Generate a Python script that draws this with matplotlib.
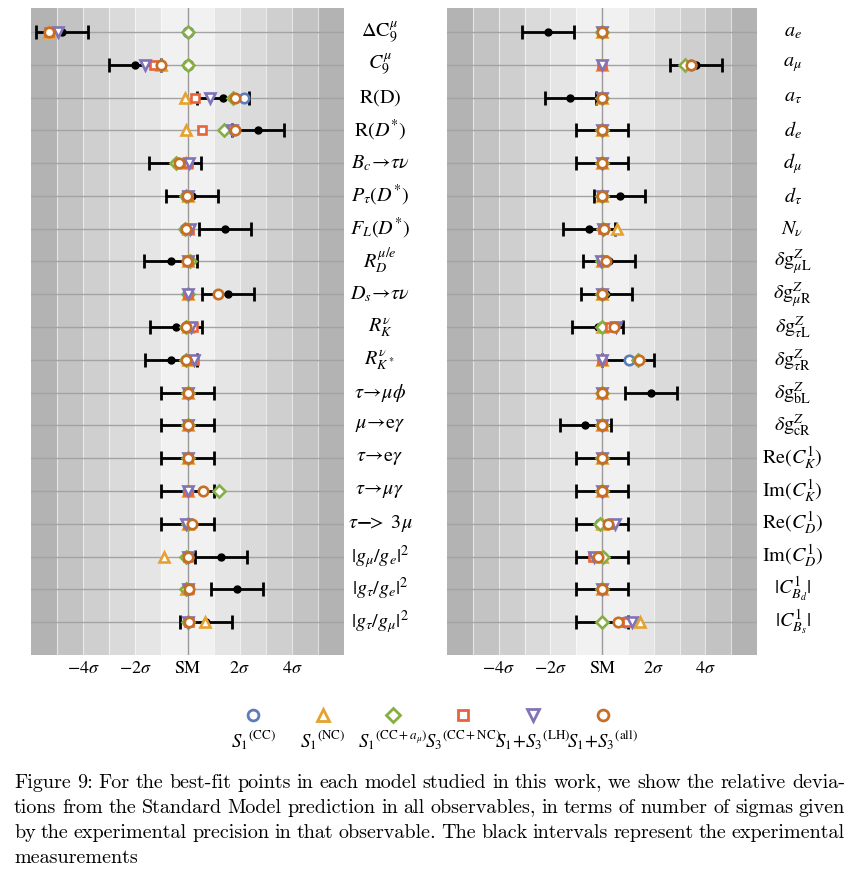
import matplotlib
matplotlib.use('Agg')
import matplotlib.pyplot as plt
import numpy as np

plt.rcParams['font.family'] = 'STIXGeneral'
plt.rcParams['mathtext.fontset'] = 'stix'

# --- data (deviations in units of sigma) ---
left_labels = [r'$\Delta\mathrm{C}_9^{\mu}$', r'$C_9^{\mu}$', r'$\mathrm{R(D)}$', r'$\mathrm{R}(D^{*})$',
               r'$B_c\!\rightarrow\!\tau\nu$', r'$P_\tau(D^{*})$', r'$F_L(D^{*})$', r'$R_D^{\mu/e}$',
               r'$D_s\!\rightarrow\!\tau\nu$', r'$R_K^{\nu}$', r'$R_{K^*}^{\nu}$', r'$\tau\!\rightarrow\!\mu\phi$',
               r'$\mu\!\rightarrow\!\mathrm{e}\gamma$', r'$\tau\!\rightarrow\!\mathrm{e}\gamma$',
               r'$\tau\!\rightarrow\!\mu\gamma$', r'$\tau\mathbf{-}\!\!>\ 3\mu$',
               r'$|g_\mu/g_e|^2$', r'$|g_\tau/g_e|^2$', r'$|g_\tau/g_\mu|^2$']
right_labels = [r'$a_e$', r'$a_\mu$', r'$a_\tau$', r'$d_e$', r'$d_\mu$', r'$d_\tau$', r'$N_\nu$',
                r'$\delta\mathrm{g}_{\mu\mathrm{L}}^{Z}$', r'$\delta\mathrm{g}_{\mu\mathrm{R}}^{Z}$',
                r'$\delta\mathrm{g}_{\tau\mathrm{L}}^{Z}$', r'$\delta\mathrm{g}_{\tau\mathrm{R}}^{Z}$',
                r'$\delta\mathrm{g}_{\mathrm{bL}}^{Z}$', r'$\delta\mathrm{g}_{\mathrm{cR}}^{Z}$',
                r'$\mathrm{Re}(C_K^1)$', r'$\mathrm{Im}(C_K^1)$', r'$\mathrm{Re}(C_D^1)$', r'$\mathrm{Im}(C_D^1)$',
                r'$|C_{B_d}^1|$', r'$|C_{B_s}^1|$']

# experimental central values (errors are 1 sigma by construction)
left_exp = [-4.82, -2.02, 1.36, 2.71, -0.47, 0.18, 1.45, -0.65, 1.56, -0.44, -0.64,
            0, 0, 0, 0, 0, 1.28, 1.91, 0.72]
right_exp = [-2.08, 3.65, -1.22, 0, 0, 0.68, -0.5, 0.26, 0.17, -0.17, 1.01, 1.9, -0.64,
             0, 0, 0, 0, 0, 0]

left_s1_cc   = [0, 0, 2.18, 1.8, -0.4, -0.05, -0.1, 0, 0, -0.05, -0.05, 0, 0, 0, 0, 0, 0, 0, 0]
left_s1_nc   = [-5.3, -1.03, -0.08, -0.06, -0.05, 0, 0, 0, 0, 0, 0, 0, 0, 0, 0, 0, -0.9, -0.05, 0.69]
left_s1_ccam = [0, 0, 1.76, 1.4, -0.46, -0.05, -0.1, 0.08, 0, -0.05, -0.05, 0, 0, 0, 1.2, 0, -0.05, -0.05, 0]
left_s3      = [-5.3, -1.29, 0.28, 0.55, 0, 0, 0.05, 0, 0, 0.2, 0.26, 0, 0, 0, 0, 0, 0, 0.05, 0.05]
left_lh      = [-4.97, -1.62, 0.86, 1.69, 0.04, 0, 0.09, 0, 0, 0.15, 0.26, 0, 0, 0, 0, -0.05, 0, 0, 0]
left_all     = [-5.3, -1.03, 1.82, 1.82, -0.33, -0.02, -0.05, -0.03, 1.18, -0.06, -0.06,
                0, 0, 0, 0.58, 0.18, 0, 0.07, 0.06]

right_s1_cc   = [0, 3.45, 0, 0, 0, 0, 0.05, 0, 0, 0, 1.04, 0, 0, 0, 0, -0.06, 0, 0, 0.9]
right_s1_nc   = [0, 0, 0, 0, 0, 0, 0.58, 0, 0, 0, 0, 0, 0, 0, 0, 0, 0, 0, 1.47]
right_s1_ccam = [0, 3.2, 0, 0, 0, 0, 0.05, 0, 0, 0, 1.41, 0, 0, 0, 0, -0.06, 0.05, 0, 0]
right_s3      = [0, 0, 0, 0, 0, 0, 0.05, 0, 0, 0.32, 0, 0, 0, 0, 0, 0.3, -0.36, 0, 0.96]
right_lh      = [0, 0, 0, 0, 0, 0, 0.05, -0.05, 0, 0.54, 0, 0, 0, 0, 0, 0.51, -0.32, 0, 1.15]
right_all     = [0, 3.44, 0, 0, 0, 0, 0.09, 0.15, 0, 0.45, 1.44, 0, 0, 0, 0, 0.23, -0.17, 0, 0.6]

model_names = [r'${S_1}^{(\mathrm{CC})}$', r'${S_1}^{(\mathrm{NC})}$', r'${S_1}^{(\mathrm{CC}+a_\mu)}$',
               r'${S_3}^{(\mathrm{CC+NC})}$', r'${S_1\!+\!S_3}^{(\mathrm{LH})}$', r'${S_1\!+\!S_3}^{(\mathrm{all})}$']
markers = ['o', '^', 'D', 's', 'v', 'o']
msizes = [6.8, 7.8, 6.3, 6.3, 7.8, 6.8]
colors = ['#5b7dbb', '#e6a22e', '#86ae40', '#ea6238', '#8272b6', '#c66e24']

band_grays = ['#f1f1f1', '#e5e5e5', '#dadada', '#cfcfcf', '#c3c3c3', '#b3b3b3']

W, H = 859, 882
fig = plt.figure(figsize=(W / 100, H / 100), dpi=100)


def panel(rect, labels, exp, series):
    ax = fig.add_axes(rect)
    n = len(labels)
    y = -np.arange(n)
    for k, c in enumerate(band_grays):
        ax.axvspan(k, k + 1, color=c, lw=0, zorder=0)
        ax.axvspan(-k - 1, -k, color=c, lw=0, zorder=0)
    for k in range(-5, 6):
        if k != 0:
            ax.axvline(k, color='white', lw=0.8, alpha=0.6, zorder=0.5)
    for yy in y:
        ax.axhline(yy, color='#a3a3a3', lw=1, zorder=1)
    ax.axvline(0, color='#9a9a9a', lw=1, zorder=1)

    ax.errorbar(exp, y, xerr=1.0, fmt='o', color='black', ms=5, elinewidth=2,
                capsize=5, capthick=2, zorder=3)
    for vals, m, s, c in zip(series, markers, msizes, colors):
        ax.plot(vals, y, ls='none', marker=m, ms=s, mfc='white', mec=c, mew=1.9, zorder=4)

    ax.set_xlim(-6, 6)
    ax.set_ylim(-n, 0.73)
    ax.set_yticks([])
    ax.set_xticks([-4, -2, 0, 2, 4])
    ax.set_xticklabels([r'$-4\sigma$', r'$-2\sigma$', 'SM', r'$2\sigma$', r'$4\sigma$'], fontsize=13)
    ax.tick_params(axis='x', length=0, pad=4)
    for sp in ax.spines.values():
        sp.set_visible(False)
    tr = ax.get_yaxis_transform()
    for yy, lab in zip(y, labels):
        ax.text(1.115, yy, lab, transform=tr, ha='center', va='center', fontsize=14.5)
    return ax


panel([31 / W, 1 - 655 / H, 313 / W, 647 / H], left_labels, left_exp,
      [left_s1_cc, left_s1_nc, left_s1_ccam, left_s3, left_lh, left_all])
panel([447 / W, 1 - 655 / H, 310 / W, 647 / H], right_labels, right_exp,
      [right_s1_cc, right_s1_nc, right_s1_ccam, right_s3, right_lh, right_all])

# legend: marker above its label
lax = fig.add_axes([218 / W, 1 - 760 / H, 420 / W, 65 / H])
lax.set_xlim(-0.5, 5.5)
lax.set_ylim(0, 1)
lax.axis('off')
for i, (name, m, s, c) in enumerate(zip(model_names, markers, msizes, colors)):
    lax.plot(i, 0.69, ls='none', marker=m, ms=s + 1, mfc='white', mec=c, mew=2)
    lax.text(i, 0.3, name, ha='center', va='center', fontsize=13.5)

# caption, justified like the LaTeX original
cap_lines = ["Figure 9: For the best-fit points in each model studied in this work, we show the relative devia-",
             "tions from the Standard Model prediction in all observables, in terms of number of sigmas given",
             "by the experimental precision in that observable. The black intervals represent the experimental",
             "measurements"]
cap_size = 14.5
fig.canvas.draw()
rend = fig.canvas.get_renderer()
x0, x1 = 14, 845
for j, line in enumerate(cap_lines):
    ypos = 1 - (783 + j * 25) / H
    if j == len(cap_lines) - 1:
        fig.text(x0 / W, ypos, line, family='cmr10', fontsize=cap_size, va='center')
        continue
    words = line.split(' ')
    txts = [fig.text(0, ypos, w, family='cmr10', fontsize=cap_size, va='center') for w in words]
    widths = [t.get_window_extent(rend).width for t in txts]
    gap = (x1 - x0 - sum(widths)) / (len(words) - 1)
    x = x0
    for t, w in zip(txts, widths):
        t.set_x(x / W)
        x += w + gap

fig.savefig('out.png', dpi=100)
